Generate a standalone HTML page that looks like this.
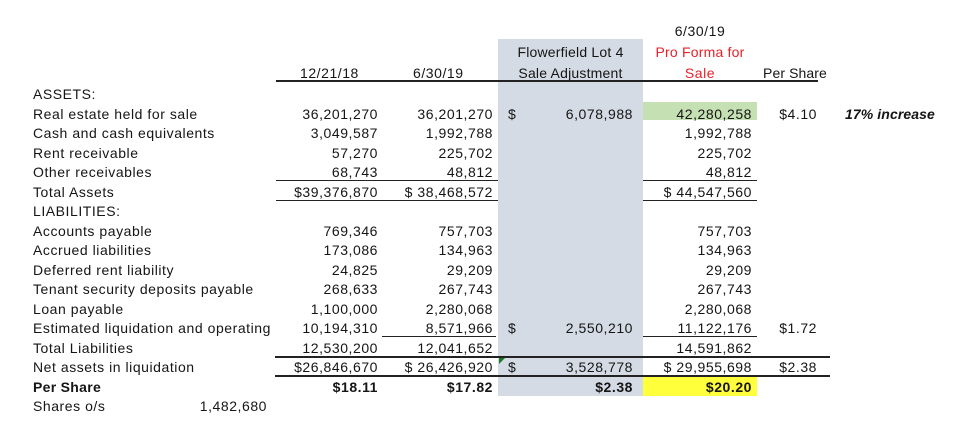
<!DOCTYPE html>
<html><head><meta charset="utf-8"><style>
body{margin:0;background:#fff;}
#c{position:relative;width:973px;height:442px;overflow:hidden;font-family:"Liberation Sans",Arial,sans-serif;font-size:14px;letter-spacing:0.55px;color:#151515;}
#c div{position:absolute;line-height:18px;height:18px;white-space:nowrap;}
.r{text-align:right;}
.b{font-weight:bold;}
#c .ln{height:0;border-top:1px solid #222;}
#c .ln2{height:0;border-top:2px solid #222;}
</style></head><body><div id="c">
<div style="left:498px;top:39px;width:145px;height:357px;background:#d5dbe4;"></div>
<div style="left:643px;top:102px;width:114px;height:18px;background:#c5e0b3;"></div>
<div style="left:643px;top:377px;width:114px;height:19px;background:#ffff3c;"></div>
<div style="left:499px;top:357px;width:0;height:0;border-top:7px solid #1a7a2a;border-right:7px solid transparent;"></div>

<div style="left:643px;width:114px;top:22px;text-align:center">6/30/19</div>
<div style="left:498px;width:145px;top:43px;text-align:center;letter-spacing:0.2px">Flowerfield Lot 4</div>
<div style="left:498px;width:145px;top:64px;text-align:center;letter-spacing:0.2px">Sale Adjustment</div>
<div style="left:643px;width:114px;top:43px;text-align:center;color:#e8202a;letter-spacing:0.2px">Pro Forma for</div>
<div style="left:643px;width:114px;top:64px;text-align:center;color:#e8202a">Sale</div>
<div style="left:300px;top:64px">12/21/18</div>
<div style="left:413px;top:64px">6/30/19</div>
<div style="left:763px;top:64px;letter-spacing:0.1px">Per Share</div>
<div class="ln2" style="left:276px;width:542px;top:80px"></div>

<div style="left:33px;top:85px">ASSETS:</div>
<div style="left:33px;top:104.5px">Real estate held for sale</div>
<div style="left:33px;top:124px">Cash and cash equivalents</div>
<div style="left:33px;top:143.5px">Rent receivable</div>
<div style="left:33px;top:163px">Other receivables</div>
<div style="left:33px;top:182.5px">Total Assets</div>
<div style="left:33px;top:202px">LIABILITIES:</div>
<div style="left:33px;top:221.5px">Accounts payable</div>
<div style="left:33px;top:241px">Accrued liabilities</div>
<div style="left:33px;top:260.5px">Deferred rent liability</div>
<div style="left:33px;top:280px">Tenant security deposits payable</div>
<div style="left:33px;top:299.5px">Loan payable</div>
<div style="left:33px;top:319px;width:243px;overflow:hidden">Estimated liquidation and operating</div>
<div style="left:33px;top:338.5px">Total Liabilities</div>
<div style="left:33px;top:358px">Net assets in liquidation</div>
<div class="b" style="left:33px;top:377.5px;letter-spacing:0.3px">Per Share</div>
<div style="left:33px;top:397px">Shares o/s</div>
<div class="r" style="right:706px;top:397px">1,482,680</div>

<!-- col1 -->
<div class="r" style="right:595px;top:104.5px">36,201,270</div>
<div class="r" style="right:595px;top:124px">3,049,587</div>
<div class="r" style="right:595px;top:143.5px">57,270</div>
<div class="r" style="right:595px;top:163px">68,743</div>
<div class="r" style="right:595px;top:182.5px">$39,376,870</div>
<div class="r" style="right:595px;top:221.5px">769,346</div>
<div class="r" style="right:595px;top:241px">173,086</div>
<div class="r" style="right:595px;top:260.5px">24,825</div>
<div class="r" style="right:595px;top:280px">268,633</div>
<div class="r" style="right:595px;top:299.5px">1,100,000</div>
<div class="r" style="right:595px;top:319px">10,194,310</div>
<div class="r" style="right:595px;top:338.5px">12,530,200</div>
<div class="r" style="right:595px;top:358px">$26,846,670</div>
<div class="r b" style="right:595px;top:377.5px">$18.11</div>
<!-- col2 -->
<div class="r" style="right:480px;top:104.5px">36,201,270</div>
<div class="r" style="right:480px;top:124px">1,992,788</div>
<div class="r" style="right:480px;top:143.5px">225,702</div>
<div class="r" style="right:480px;top:163px">48,812</div>
<div class="r" style="right:480px;top:182.5px">$ 38,468,572</div>
<div class="r" style="right:480px;top:221.5px">757,703</div>
<div class="r" style="right:480px;top:241px">134,963</div>
<div class="r" style="right:480px;top:260.5px">29,209</div>
<div class="r" style="right:480px;top:280px">267,743</div>
<div class="r" style="right:480px;top:299.5px">2,280,068</div>
<div class="r" style="right:480px;top:319px">8,571,966</div>
<div class="r" style="right:480px;top:338.5px">12,041,652</div>
<div class="r" style="right:480px;top:358px">$ 26,426,920</div>
<div class="r b" style="right:480px;top:377.5px">$17.82</div>
<!-- adj -->
<div style="left:508px;top:104.5px">$</div>
<div class="r" style="right:340px;top:104.5px">6,078,988</div>
<div style="left:508px;top:319px">$</div>
<div class="r" style="right:340px;top:319px">2,550,210</div>
<div style="left:508px;top:358px">$</div>
<div class="r" style="right:340px;top:358px">3,528,778</div>
<div class="r b" style="right:340px;top:377.5px">$2.38</div>
<!-- pro forma -->
<div class="r" style="right:221px;top:104.5px">42,280,258</div>
<div class="r" style="right:221px;top:124px">1,992,788</div>
<div class="r" style="right:221px;top:143.5px">225,702</div>
<div class="r" style="right:221px;top:163px">48,812</div>
<div class="r" style="right:221px;top:182.5px">$ 44,547,560</div>
<div class="r" style="right:221px;top:221.5px">757,703</div>
<div class="r" style="right:221px;top:241px">134,963</div>
<div class="r" style="right:221px;top:260.5px">29,209</div>
<div class="r" style="right:221px;top:280px">267,743</div>
<div class="r" style="right:221px;top:299.5px">2,280,068</div>
<div class="r" style="right:221px;top:319px">11,122,176</div>
<div class="r" style="right:221px;top:338.5px">14,591,862</div>
<div class="r" style="right:221px;top:358px">$ 29,955,698</div>
<div class="r b" style="right:221px;top:377.5px">$20.20</div>
<!-- per share -->
<div class="r" style="right:156px;top:104.5px">$4.10</div>
<div class="r" style="right:156px;top:319px">$1.72</div>
<div class="r" style="right:156px;top:358px">$2.38</div>
<div class="b" style="left:845px;top:104.5px;font-style:italic;letter-spacing:0.1px">17% increase</div>

<!-- lines -->
<div class="ln" style="left:276px;width:222px;top:180px"></div>
<div class="ln" style="left:643px;width:114px;top:180px"></div>
<div class="ln" style="left:276px;width:222px;top:200px"></div>
<div class="ln" style="left:643px;width:114px;top:200px"></div>
<div class="ln" style="left:382px;width:114px;top:336px"></div>
<div class="ln" style="left:643px;width:114px;top:336px"></div>
<div class="ln2" style="left:275px;width:555px;top:356px"></div>
<div class="ln2" style="left:275px;width:555px;top:375px"></div>
</div></body></html>
